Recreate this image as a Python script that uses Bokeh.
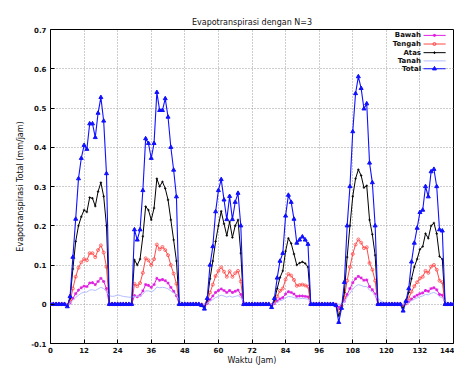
from bokeh.plotting import figure
from bokeh.models import Range1d, FixedTicker, ColumnDataSource
from bokeh.embed import file_html
from bokeh.resources import INLINE
from bokeh.core.properties import value

# ---------------- data (hourly, 0..144) ----------------
waktu = list(range(145))

total = [0, 0, 0, 0, 0, 0,
         -0.006, 0.02, 0.12, 0.217, 0.32, 0.372, 0.405, 0.395, 0.46, 0.46, 0.425, 0.487, 0.527, 0.467, 0.333,
         0, 0, 0, 0, 0, 0, 0, 0, 0,
         0.19, 0.164, 0.19, 0.29, 0.422, 0.41, 0.372, 0.41, 0.54, 0.494, 0.494, 0.524, 0.477, 0.40, 0.342, 0.274,
         0, 0, 0, 0, 0, 0, 0, 0,
         -0.003, -0.012, 0.015, 0.1, 0.147, 0.236, 0.29, 0.318, 0.266, 0.216, 0.275, 0.216, 0.26, 0.283, 0.2,
         0, 0, 0, 0, 0, 0, 0, 0, 0, 0,
         -0.008, 0.015, 0.067, 0.11, 0.13, 0.225, 0.278, 0.26, 0.217, 0.156, 0.164, 0.172, 0.164, 0.153,
         0, 0, 0, 0, 0, 0, 0, 0, 0,
         -0.003, -0.046, -0.01, 0.056, 0.2, 0.3, 0.44, 0.537, 0.58, 0.55, 0.498, 0.511, 0.36, 0.31, 0.2,
         0, 0, 0, 0, 0, 0, 0, 0, 0,
         -0.017, 0.008, 0.04, 0.108, 0.156, 0.194, 0.234, 0.24, 0.3, 0.274, 0.338, 0.344, 0.3, 0.19, 0.187,
         0, 0, 0, 0]

atas = [0, 0, 0, 0, 0, 0,
        -0.004, 0.015, 0.09, 0.16, 0.2, 0.223, 0.24, 0.235, 0.272, 0.27, 0.25, 0.287, 0.31, 0.275, 0.2,
        0, 0, 0, 0, 0, 0, 0, 0, 0,
        0.113, 0.1, 0.115, 0.173, 0.249, 0.24, 0.215, 0.245, 0.32, 0.3, 0.312, 0.295, 0.266, 0.215, 0.164, 0.11,
        0, 0, 0, 0, 0, 0, 0, 0,
        -0.002, -0.008, 0.01, 0.065, 0.11, 0.16, 0.2, 0.237, 0.205, 0.175, 0.21, 0.17, 0.2, 0.215, 0.13,
        0, 0, 0, 0, 0, 0, 0, 0, 0, 0,
        -0.005, 0.01, 0.04, 0.068, 0.085, 0.135, 0.168, 0.155, 0.128, 0.1, 0.105, 0.108, 0.104, 0.095,
        0, 0, 0, 0, 0, 0, 0, 0, 0,
        -0.002, -0.03, -0.008, 0.03, 0.12, 0.2, 0.275, 0.32, 0.343, 0.328, 0.297, 0.302, 0.215, 0.178, 0.125,
        0, 0, 0, 0, 0, 0, 0, 0, 0,
        -0.01, 0.005, 0.03, 0.065, 0.095, 0.115, 0.14, 0.147, 0.18, 0.168, 0.2, 0.207, 0.18, 0.122, 0.115,
        0, 0, 0, 0]

tengah = [0, 0, 0, 0, 0, 0,
          -0.002, 0.008, 0.04, 0.07, 0.093, 0.107, 0.115, 0.112, 0.13, 0.13, 0.12, 0.138, 0.15, 0.132, 0.095,
          0, 0, 0, 0, 0, 0, 0, 0, 0,
          0.052, 0.046, 0.054, 0.08, 0.117, 0.112, 0.1, 0.115, 0.152, 0.14, 0.146, 0.138, 0.125, 0.1, 0.078, 0.052,
          0, 0, 0, 0, 0, 0, 0, 0,
          -0.001, -0.004, 0.005, 0.03, 0.05, 0.072, 0.085, 0.094, 0.083, 0.07, 0.084, 0.07, 0.079, 0.085, 0.058,
          0, 0, 0, 0, 0, 0, 0, 0, 0, 0,
          -0.003, 0.005, 0.02, 0.034, 0.04, 0.063, 0.077, 0.073, 0.062, 0.047, 0.049, 0.05, 0.048, 0.045,
          0, 0, 0, 0, 0, 0, 0, 0, 0,
          -0.001, -0.016, -0.004, 0.018, 0.06, 0.095, 0.128, 0.152, 0.165, 0.157, 0.143, 0.145, 0.105, 0.088, 0.06,
          0, 0, 0, 0, 0, 0, 0, 0, 0,
          -0.004, 0.003, 0.015, 0.032, 0.046, 0.056, 0.066, 0.07, 0.085, 0.08, 0.096, 0.1, 0.088, 0.06, 0.056,
          0, 0, 0, 0]

bawah = [0, 0, 0, 0, 0, 0,
         -0.001, 0.003, 0.015, 0.027, 0.036, 0.042, 0.046, 0.045, 0.054, 0.055, 0.05, 0.058, 0.066, 0.058, 0.04,
         0, 0, 0, 0, 0, 0, 0, 0, 0,
         0.022, 0.019, 0.023, 0.034, 0.05, 0.048, 0.043, 0.05, 0.066, 0.061, 0.063, 0.06, 0.054, 0.043, 0.033, 0.022,
         0, 0, 0, 0, 0, 0, 0, 0,
         0, -0.002, 0.002, 0.012, 0.021, 0.03, 0.035, 0.039, 0.035, 0.03, 0.035, 0.03, 0.033, 0.036, 0.025,
         0, 0, 0, 0, 0, 0, 0, 0, 0, 0,
         -0.001, 0.002, 0.008, 0.014, 0.017, 0.026, 0.032, 0.03, 0.026, 0.02, 0.021, 0.021, 0.02, 0.019,
         0, 0, 0, 0, 0, 0, 0, 0, 0,
         0, -0.008, -0.002, 0.008, 0.025, 0.04, 0.055, 0.065, 0.071, 0.067, 0.061, 0.062, 0.045, 0.037, 0.026,
         0, 0, 0, 0, 0, 0, 0, 0, 0,
         -0.002, 0.001, 0.006, 0.013, 0.019, 0.023, 0.027, 0.029, 0.035, 0.033, 0.04, 0.042, 0.037, 0.025, 0.023,
         0, 0, 0, 0]

tanah = [0, 0, 0, 0, 0, 0,
         0, 0.002, 0.01, 0.017, 0.023, 0.028, 0.031, 0.031, 0.036, 0.037, 0.035, 0.039, 0.043, 0.04, 0.032,
         0.022, 0.02, 0.021, 0.024, 0.022, 0.02, 0.019, 0.018, 0.018,
         0.02, 0.02, 0.021, 0.026, 0.034, 0.034, 0.032, 0.035, 0.044, 0.042, 0.043, 0.042, 0.039, 0.034, 0.029, 0.024,
         0.01, 0.004, 0, 0, 0, 0, 0, 0,
         0, 0, 0.002, 0.007, 0.012, 0.017, 0.02, 0.023, 0.021, 0.018, 0.021, 0.018, 0.02, 0.022, 0.017,
         0.008, 0.003, 0, 0, 0, 0, 0, 0, 0, 0,
         0, 0.002, 0.005, 0.009, 0.011, 0.016, 0.02, 0.019, 0.017, 0.014, 0.014, 0.015, 0.014, 0.013,
         0.006, 0.002, 0, 0, 0, 0, 0, 0, 0,
         0, 0, 0, 0.006, 0.018, 0.028, 0.038, 0.046, 0.05, 0.048, 0.045, 0.045, 0.036, 0.031, 0.024,
         0.014, 0.009, 0.005, 0.002, 0, 0, 0, 0, 0,
         0, 0.001, 0.004, 0.009, 0.013, 0.016, 0.019, 0.021, 0.025, 0.024, 0.028, 0.03, 0.027, 0.019, 0.017,
         0.008, 0.003, 0, 0]

x_ticks = [0, 12, 24, 36, 48, 60, 72, 84, 96, 108, 120, 132, 144]
y_ticks = [-0.1, 0, 0.1, 0.2, 0.3, 0.4, 0.5, 0.6, 0.7]
y_tick_labels = ["-0.1", "0", "0.1", "0.2", "0.3", "0.4", "0.5", "0.6", "0.7"]

series_names = ["Bawah", "Tengah", "Atas", "Tanah", "Total"]

for s in (total, atas, tengah, bawah, tanah):
    assert len(s) == len(waktu), len(s)

src = ColumnDataSource(dict(waktu=waktu, bawah=bawah, tengah=tengah, atas=atas,
                            tanah=tanah, total=total))

FONT = "DejaVu Sans"

p = figure(width=454, height=367, output_backend="svg", toolbar_location=None,
           x_range=Range1d(0, 144), y_range=Range1d(-0.1, 0.7),
           min_border_left=50, min_border_right=1, min_border_top=29, min_border_bottom=23,
           title="Evapotranspirasi dengan N=3")
p.background_fill_color = "white"
p.border_fill_color = "white"
p.outline_line_color = "black"
p.outline_line_width = 1

p.title.align = "center"
p.title.vertical_align = "middle"
p.title.text_font = FONT
p.title.text_font_size = "8px"
p.title.text_font_style = "normal"
p.title.text_color = "#111111"
p.title.standoff = 4

p.xaxis.ticker = FixedTicker(ticks=x_ticks)
p.yaxis.ticker = FixedTicker(ticks=y_ticks)
p.yaxis.major_label_overrides = {t: l for t, l in zip(y_ticks, y_tick_labels)}
p.xaxis.major_label_overrides = {t: str(t) for t in x_ticks}

for ax in (p.xaxis, p.yaxis):
    ax.axis_line_color = None
    ax.major_tick_in = 4
    ax.major_tick_out = 0
    ax.minor_tick_line_color = None
    ax.major_tick_line_color = "black"
    ax.major_label_text_font = FONT
    ax.major_label_text_font_size = "7px"
    ax.major_label_text_font_style = "bold"
    ax.major_label_text_color = "#111111"
    ax.axis_label_text_font = FONT
    ax.axis_label_text_font_size = "8px"
    ax.axis_label_text_font_style = "normal"
    ax.axis_label_text_color = "#111111"

p.xaxis.axis_label = "Waktu (Jam)"
p.yaxis.axis_label = "Evapotranspirasi Total (mm/jam)"
p.xaxis.major_label_standoff = 3
p.yaxis.major_label_standoff = 4
p.xaxis.axis_label_standoff = 0
p.yaxis.axis_label_standoff = 3

p.grid.grid_line_color = "#9a9a9a"
p.grid.grid_line_dash = "1 2"
p.grid.grid_line_width = 1

colors = {"Bawah": "#e020e0", "Tengah": "#ff4a4a", "Atas": "#000000",
          "Tanah": "#b4bcff", "Total": "#1010ff"}

# lines
p.line("waktu", "bawah", source=src, color=colors["Bawah"], line_width=1)
p.scatter("waktu", "bawah", source=src, marker="asterisk", size=3, line_color=colors["Bawah"], line_width=1)
p.line("waktu", "tengah", source=src, color=colors["Tengah"], line_width=1)
p.scatter("waktu", "tengah", source=src, marker="circle", size=3, line_color=colors["Tengah"],
          fill_color=None, line_width=0.8)
p.line("waktu", "atas", source=src, color=colors["Atas"], line_width=1)
p.scatter("waktu", "atas", source=src, marker="cross", size=2.5, line_color=colors["Atas"], line_width=0.8)
p.line("waktu", "tanah", source=src, color=colors["Tanah"], line_width=1)
p.line("waktu", "total", source=src, color=colors["Total"], line_width=1.1)
p.scatter("waktu", "total", source=src, marker="triangle", size=4, line_color=colors["Total"],
          fill_color=colors["Total"])

# manual gnuplot-style legend (text then sample)
leg_y = [0.685, 0.663, 0.641, 0.620, 0.600]
leg_text_x = 132.4
leg_x0, leg_x1, leg_xm = 133.3, 141.2, 137.2
p.text(x=[leg_text_x] * 5, y=leg_y, text=series_names, text_align="right", text_baseline="middle",
       text_font=value(FONT), text_font_size="7px", text_font_style="bold", text_color="#111111")
for name, yy in zip(series_names, leg_y):
    p.segment(x0=[leg_x0], y0=[yy], x1=[leg_x1], y1=[yy], line_color=colors[name], line_width=1)
p.scatter(x=[leg_xm], y=[leg_y[0]], marker="asterisk", size=3, line_color=colors["Bawah"])
p.scatter(x=[leg_xm], y=[leg_y[1]], marker="circle", size=3, line_color=colors["Tengah"], fill_color=None)
p.scatter(x=[leg_xm], y=[leg_y[2]], marker="cross", size=2.5, line_color=colors["Atas"])
p.scatter(x=[leg_xm], y=[leg_y[4]], marker="triangle", size=4, line_color=colors["Total"],
          fill_color=colors["Total"])

open("out.html", "w").write(file_html(p, INLINE))
